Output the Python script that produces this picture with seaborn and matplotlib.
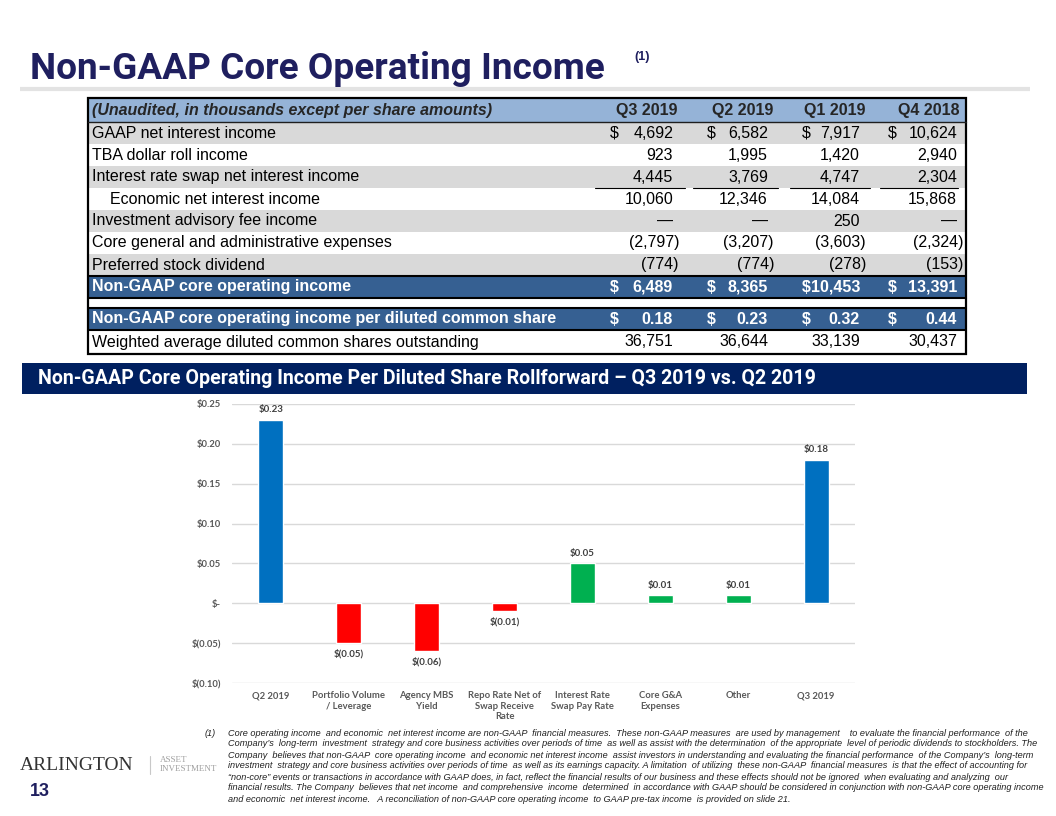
import matplotlib
matplotlib.use('Agg')
import matplotlib.pyplot as plt
from matplotlib.patches import Rectangle
from matplotlib.ticker import FuncFormatter
import seaborn as sns

sns.set_style('white')
plt.rcParams['font.family'] = ['Liberation Sans', 'DejaVu Sans']

#################
# data
#################

col_heads = ['Q3 2019', 'Q2 2019', 'Q1 2019', 'Q4 2018']
row_names = ['GAAP net interest income',
             'TBA dollar roll income',
             'Interest rate swap net interest income',
             '    Economic net interest income',
             'Investment advisory fee income',
             'Core general and administrative expenses',
             'Preferred stock dividend',
             'Non-GAAP core operating income',
             'Non-GAAP core operating income per diluted common share',
             'Weighted average diluted common shares outstanding']
q3_2019 = ['4,692', '923', '4,445', '10,060', '—', '(2,797)', '(774)', '6,489', '0.18', '36,751']
q2_2019 = ['6,582', '1,995', '3,769', '12,346', '—', '(3,207)', '(774)', '8,365', '0.23', '36,644']
q1_2019 = ['7,917', '1,420', '4,747', '14,084', '250', '(3,603)', '(278)', '10,453', '0.32', '33,139']
q4_2018 = ['10,624', '2,940', '2,304', '15,868', '—', '(2,324)', '(153)', '13,391', '0.44', '30,437']
dollar_rows = [0, 7, 8]
dark_rows = [7, 8]

steps = ['Q2 2019', 'Portfolio Volume\n/ Leverage', 'Agency MBS\nYield',
         'Repo Rate Net of\nSwap Receive\nRate', 'Interest Rate\nSwap Pay Rate',
         'Core G&A\nExpenses', 'Other', 'Q3 2019']
eps_change = [0.23, -0.05, -0.06, -0.01, 0.05, 0.01, 0.01, 0.18]
bar_colors = ['#0070C0', '#FF0000', '#FF0000', '#FF0000',
              '#00B050', '#00B050', '#00B050', '#0070C0']

footnote = [
    'Core operating income  and economic  net interest income are non-GAAP  financial measures.  These non-GAAP measures  are used by management    to evaluate the financial performance  of the',
    'Company\u2019s  long-term  investment  strategy and core business activities over periods of time  as well as assist with the determination  of the appropriate  level of periodic dividends to stockholders. The',
    'Company  believes that non-GAAP  core operating income  and economic net interest income  assist investors in understanding and evaluating the financial performance  of the Company\u2019s  long-term',
    'investment  strategy and core business activities over periods of time  as well as its earnings capacity. A limitation  of utilizing  these non-GAAP  financial measures  is that the effect of accounting for',
    '\u201cnon-core\u201d events or transactions in accordance with GAAP does, in fact, reflect the financial results of our business and these effects should not be ignored  when evaluating and analyzing  our',
    'financial results. The Company  believes that net income  and comprehensive  income  determined  in accordance with GAAP should be considered in conjunction with non-GAAP core operating income',
    'and economic  net interest income.   A reconciliation of non-GAAP core operating income  to GAAP pre-tax income  is provided on slide 21.',
]

NAVY = '#1F1F5F'

fig = plt.figure(figsize=(10.56, 8.16), dpi=100)
# full-page axes in pixel units for the slide furniture
page = fig.add_axes([0, 0, 1, 1])
page.set_xlim(0, 1056)
page.set_ylim(816, 0)
page.axis('off')
rend = fig.canvas.get_renderer()


def fit_width(t, px):
    w = t.get_window_extent(rend).width
    t.set_fontsize(t.get_fontsize() * px / w)


# title
title = page.text(30, 79, 'Non-GAAP Core Operating Income', fontsize=26,
                  fontweight='bold', color=NAVY, va='baseline',
                  family=['Roboto', 'Liberation Sans'])
fit_width(title, 575)
page.text(634, 60, '(1)', fontsize=9, fontweight='bold', color=NAVY, va='baseline')
page.plot([20, 1030], [89, 89], color='#E3E3E3', lw=3, solid_capstyle='butt')

#################
# table
#################
row_top = [122, 144, 166, 188, 210, 232, 254, 276, 308, 330]
row_bot = [144, 166, 188, 210, 232, 254, 276, 298, 330, 354]
page.add_patch(Rectangle((88, 98), 878, 24, color='#95B3D7', lw=0))
for i in range(len(row_names)):
    if i in dark_rows:
        fc = '#366092'
    elif i < 7 and i % 2 == 0:
        fc = '#D9D9D9'
    else:
        fc = 'white'
    page.add_patch(Rectangle((88, row_top[i]), 878, row_bot[i] - row_top[i], color=fc, lw=0))

page.text(92, 110, '(Unaudited, in thousands except per share amounts)', fontsize=11.5,
          fontweight='bold', style='italic', va='center')
head_x = [678, 773, 865, 960]
for x, h in zip(head_x, col_heads):
    page.text(x, 110, h, fontsize=11.5, fontweight='bold', ha='right', va='center')

num_x = [673, 768, 860, 957]
dollar_x = [610, 707, 802, 888]
columns = [q3_2019, q2_2019, q1_2019, q4_2018]
for i, name in enumerate(row_names):
    yc = (row_top[i] + row_bot[i]) / 2
    dark = i in dark_rows
    kw = dict(fontsize=11.5, va='center', color='white' if dark else 'black',
              fontweight='bold' if dark else 'normal')
    page.text(92, yc, name, **kw)
    for c, col in enumerate(columns):
        val = col[i]
        x = num_x[c] + (6 if val.endswith(')') else 0)
        page.text(x, yc, val, ha='right', **kw)
        if i in dollar_rows:
            page.text(dollar_x[c], yc, '$', **kw)

# subtotal underlines
for x0, x1 in [(595, 685), (693, 778), (790, 870), (880, 958)]:
    page.plot([x0, x1], [188, 188], color='black', lw=0.8)
# table rules
page.plot([88, 966], [122, 122], color='#1F1F1F', lw=1)
for y in [276, 298, 308, 330]:
    page.plot([88, 966], [y, y], color='black', lw=1.5)
page.add_patch(Rectangle((88, 98), 878, 256, fill=False, ec='black', lw=1.6))

# banner
page.add_patch(Rectangle((22, 363), 1005, 31, color='#002060', lw=0))
banner = page.text(38, 379, 'Non-GAAP Core Operating Income Per Diluted Share Rollforward \u2013 Q3 2019 vs. Q2 2019',
                   fontsize=12, fontweight='bold', color='white', va='center',
                   family=['Roboto', 'Liberation Sans'])
fit_width(banner, 777)

#################
# bar chart
#################
ax = fig.add_axes([232 / 1056, 1 - 683 / 816, 623 / 1056, 279 / 816])
sns.barplot(x=steps, y=eps_change, hue=steps, palette=bar_colors, legend=False,
            width=0.32, saturation=1, ax=ax)
ax.set_ylim(-0.10, 0.25)
ax.set_xlim(-0.5, 7.5)
ax.set_yticks([-0.10, -0.05, 0, 0.05, 0.10, 0.15, 0.20, 0.25])


def money(v, pos=None):
    if abs(v) < 1e-9:
        return '$-'
    if v < 0:
        return '$({:.2f})'.format(-v)
    return '${:.2f}'.format(v)


ax.yaxis.set_major_formatter(FuncFormatter(money))
ax.yaxis.grid(True, color='#D9D9D9', lw=1)
ax.set_axisbelow(True)
sns.despine(ax=ax, left=True, bottom=True)
ax.tick_params(axis='both', length=0, colors='#595959')
ax.tick_params(axis='y', pad=8)
ax.tick_params(axis='x', pad=6)
for lab in ax.get_xticklabels() + ax.get_yticklabels():
    lab.set_family(['Lato', 'DejaVu Sans'])
    lab.set_fontweight('bold')
    lab.set_fontsize(6.8)
ax.set_xlabel('')
ax.set_ylabel('')

for i, v in enumerate(eps_change):
    off = 4 if v > 0 else -4
    ax.annotate(money(v), (i, v), xytext=(0, off), textcoords='offset points',
                ha='center', va='bottom' if v > 0 else 'top', fontsize=7,
                fontweight='bold', color='#404040', family=['Lato', 'DejaVu Sans'])

#################
# footer
#################
page.text(205, 733, '(1)', fontsize=6.6, style='italic', color='#202020', va='center')
for k, line in enumerate(footnote):
    page.text(228, 733 + k * 11, line, fontsize=6.6, style='italic', color='#202020', va='center')

page.text(20, 765, 'ARLINGTON', family=['Liberation Serif', 'DejaVu Serif'], fontsize=14,
          color='#333333', va='center')
page.plot([150, 150], [756, 774], color='#C8C8C8', lw=0.8)
page.text(160, 760, 'ASSET', family=['Liberation Serif', 'DejaVu Serif'], fontsize=6.5,
          color='#A0A0A0', va='center')
page.text(160, 769, 'INVESTMENT', family=['Liberation Serif', 'DejaVu Serif'], fontsize=6.5,
          color='#A0A0A0', va='center')
page.text(30, 792, '13', fontsize=13, fontweight='bold', color=NAVY, va='center')

fig.savefig('out.png', dpi=100)
